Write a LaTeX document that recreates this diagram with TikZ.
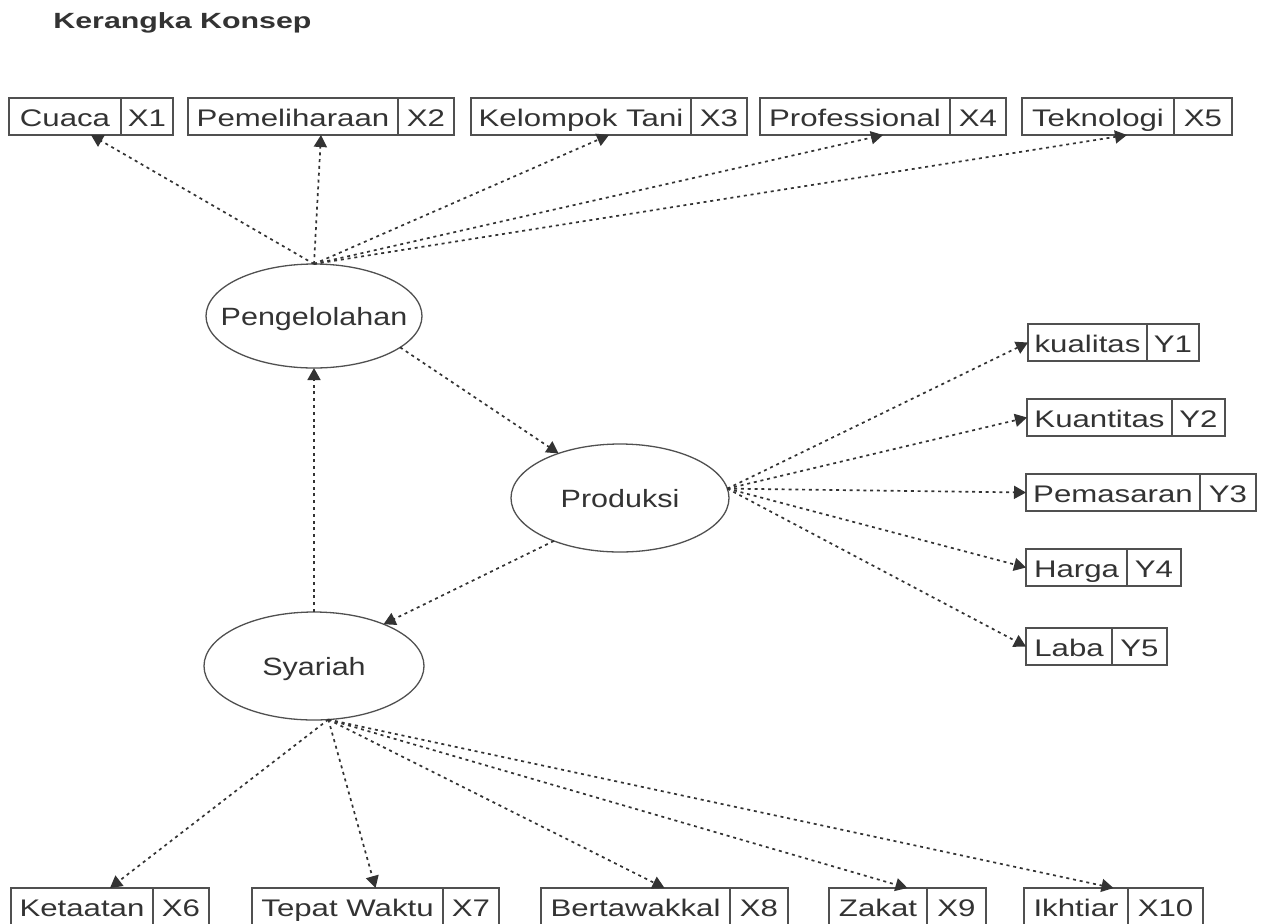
\documentclass[tikz,border=0pt]{standalone}
\usepackage{fontspec}
\setmainfont{Liberation Sans}[FakeStretch=1.3]
\newfontfamily\titlefont{Liberation Sans}[FakeStretch=1.38]
\newfontfamily\ovalfont{Liberation Sans}[FakeStretch=1.22]
\usetikzlibrary{arrows.meta,calc,shapes.geometric}
\definecolor{ink}{HTML}{333333}
\definecolor{edgec}{HTML}{505050}
\tikzset{
  cell/.style={draw=edgec, line width=0.7pt, minimum height=18.5pt, inner sep=0pt, outer sep=0pt,
    text height=9.5pt, text depth=0pt, text=ink, font=\fontsize{12pt}{14pt}\selectfont},
  oval/.style={ellipse, draw=edgec, line width=0.65pt, inner sep=0pt, outer sep=0pt},
  ovaltext/.style={text=ink, inner sep=0pt, text height=9pt, text depth=0pt, font=\ovalfont\fontsize{12.5pt}{14pt}\selectfont},
  conn/.style={draw=ink, line width=0.85pt, dash pattern=on 1.5pt off 1.9pt, -{Triangle[length=6pt,width=6.5pt]}},
}
\newcommand{\twobox}[7]{%
  \node[cell, anchor=north west, minimum width={(#3-#2)*0.5pt}] (#1) at (#2,#5) {#6};
  \node[cell, anchor=north west, minimum width={(#4-#3)*0.5pt}] (#1c) at (#3,#5) {#7};
  \coordinate (#1b) at ($(#1.south west)!0.5!(#1c.south east)$);
  \coordinate (#1t) at ($(#1.north west)!0.5!(#1c.north east)$);
}
\begin{document}
\begin{tikzpicture}[x=0.5pt, y=-0.5pt]
\useasboundingbox (0,0) rectangle (1270,923);
\node[anchor=base west, inner sep=0pt, text=ink, font=\titlefont\bfseries\fontsize{11pt}{13pt}\selectfont] (title) at (53,28) {Kerangka Konsep};

% ellipses
\node[oval, minimum width=108pt, minimum height=52pt, label={[ovaltext]center:Pengelolahan}] (peng) at (314,316) {};
\node[oval, minimum width=109pt, minimum height=54pt, label={[ovaltext]center:Produksi}] (prod) at (620,498) {};
\node[oval, minimum width=110pt, minimum height=54pt, label={[ovaltext]center:Syariah}] (sya) at (314,666) {};

% top boxes
\twobox{cuaca}{9}{121}{173}{98}{Cuaca}{X1}
\twobox{peme}{188}{398}{454}{98}{Pemeliharaan}{X2}
\twobox{kelo}{471}{691}{747}{98}{Kelompok Tani}{X3}
\twobox{prof}{760}{950}{1006}{98}{Professional}{X4}
\twobox{tekn}{1022}{1174}{1232}{98}{Teknologi}{X5}

% right boxes
\twobox{kual}{1028}{1147}{1199}{324}{kualitas}{Y1}
\twobox{kuan}{1027}{1172}{1225}{399}{Kuantitas}{Y2}
\twobox{pema}{1026}{1200}{1256}{474}{Pemasaran}{Y3}
\twobox{harg}{1026}{1127}{1181}{549}{Harga}{Y4}
\twobox{laba}{1026}{1112}{1167}{628}{Laba}{Y5}

% bottom boxes
\twobox{keta}{11}{153}{209}{888}{Ketaatan}{X6}
\twobox{tepa}{252}{443}{499}{888}{Tepat Waktu}{X7}
\twobox{bert}{541}{730}{788}{888}{Bertawakkal}{X8}
\twobox{zaka}{829}{927}{986}{888}{Zakat}{X9}
\twobox{ikht}{1024}{1128}{1203}{888}{Ikhtiar}{X10}

% connectors
\foreach \t in {cuacab,pemeb,kelob,profb,teknb}
  \draw[conn] (peng.north) -- (\t);
\draw[conn] (peng.-20) -- (prod.144);
\draw[conn] (prod.213) -- (sya.31);
\draw[conn] (sya.north) -- (peng.south);
\foreach \t in {kual,kuan,pema,harg,laba}
  \draw[conn] (prod.5) -- (\t.west);
\foreach \t in {ketat,tepat,bertt,zakat,ikhtt}
  \draw[conn] (sya.-75) -- (\t);
\end{tikzpicture}
\end{document}
